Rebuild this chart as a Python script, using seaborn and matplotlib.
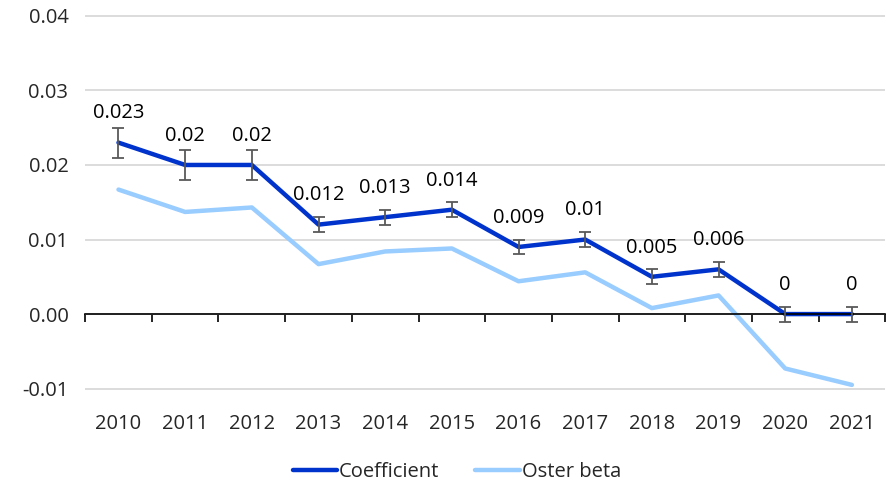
import numpy as np
import pandas as pd
import matplotlib
matplotlib.use("Agg")
import matplotlib.pyplot as plt
import seaborn as sns

# chart data
years = ["2010", "2011", "2012", "2013", "2014", "2015",
         "2016", "2017", "2018", "2019", "2020", "2021"]
coefficient = [0.023, 0.02, 0.02, 0.012, 0.013, 0.014,
               0.009, 0.01, 0.005, 0.006, 0.0, 0.0]
coef_err = [0.002, 0.002, 0.002, 0.001, 0.001, 0.001,
            0.001, 0.001, 0.001, 0.001, 0.001, 0.001]
oster_beta = [0.0167, 0.0137, 0.0143, 0.0067, 0.0084, 0.0088,
              0.0044, 0.0056, 0.0008, 0.0025, -0.0073, -0.0095]
y_ticks = [-0.01, 0.0, 0.01, 0.02, 0.03, 0.04]
y_tick_labels = ["-0.01", "0.00", "0.01", "0.02", "0.03", "0.04"]

sns.set_style("white")
plt.rcParams["font.family"] = ["Open Sans", "DejaVu Sans"]

dark_blue = "#0033CC"
light_blue = "#99CCFF"
fs = 14.5

pos = np.arange(len(years))
df = pd.DataFrame({
    "pos": np.concatenate([pos, pos]),
    "value": oster_beta + coefficient,
    "series": ["Oster beta"] * len(years) + ["Coefficient"] * len(years),
})

fig, ax = plt.subplots(figsize=(8.87, 4.88), dpi=100)
fig.subplots_adjust(left=0.096, right=0.998, top=0.969, bottom=0.196)

# horizontal gridlines
ax.hlines(y_ticks, -0.5, len(years) - 0.5, colors="#D9D9D9",
          linewidth=1.3, zorder=1, clip_on=False)

sns.lineplot(data=df, x="pos", y="value", hue="series",
             palette={"Coefficient": dark_blue, "Oster beta": light_blue},
             hue_order=["Oster beta", "Coefficient"],
             linewidth=3.2, ax=ax, legend=False)

ax.errorbar(pos, coefficient, yerr=coef_err, fmt="none", ecolor="#595959",
            elinewidth=1.3, capsize=4, capthick=1.3, zorder=4)

for x, v in zip(pos, coefficient):
    ax.annotate(f"{v:g}", (x, v), xytext=(0, 21), textcoords="offset points",
                ha="center", va="center", fontsize=fs, color="black")

ax.set_ylim(-0.0105, 0.0401)
ax.set_xlim(-0.5, len(years) - 0.5)
ax.set_yticks(y_ticks)
ax.set_yticklabels(y_tick_labels)
ax.set_xticks(pos)
ax.set_xticklabels(years)
ax.set_xticks(np.arange(len(years) + 1) - 0.5, minor=True)
ax.tick_params(axis="both", which="major", labelsize=fs)
ax.tick_params(axis="x", which="major", length=0, pad=72, bottom=True)
ax.tick_params(axis="x", which="minor", length=6, width=1.2, color="black",
               direction="out", bottom=True)
ax.tick_params(axis="y", length=0, pad=12)
ax.set_xlabel("")
ax.set_ylabel("")

for side in ["top", "right", "left"]:
    ax.spines[side].set_visible(False)
ax.spines["bottom"].set_position(("data", 0))
ax.spines["bottom"].set_color("black")
ax.spines["bottom"].set_linewidth(1.2)

handles = [plt.Line2D([], [], color=dark_blue, linewidth=3.2),
           plt.Line2D([], [], color=light_blue, linewidth=3.2)]
fig.legend(handles, ["Coefficient", "Oster beta"], loc="center",
           bbox_to_anchor=(0.515, 0.033), ncol=2, frameon=False, fontsize=fs,
           handlelength=2.2, handletextpad=0.1, columnspacing=1.8)

plt.savefig("out.png", dpi=100)
plt.close()
